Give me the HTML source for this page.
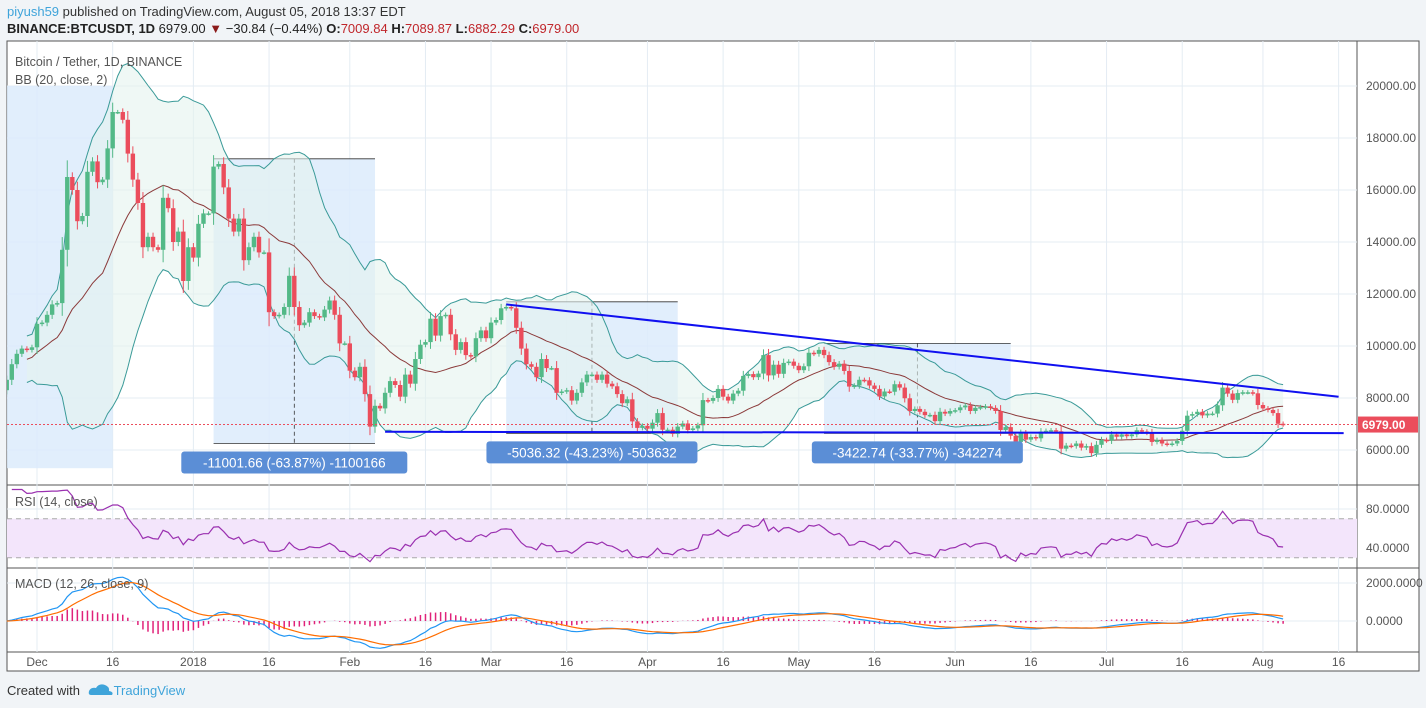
<!DOCTYPE html>
<html><head><meta charset="utf-8">
<style>
body{margin:0;width:1426px;height:708px;background:#f1f4f7;font-family:"Liberation Sans",sans-serif;overflow:hidden;position:relative}
.t{position:absolute;white-space:nowrap}
</style></head>
<body>
<div class="t" style="left:7px;top:4px;font-size:13px;color:#333"><span style="color:#3fa4da">piyush59</span> published on TradingView.com, August 05, 2018 13:37 EDT</div>
<div class="t" style="left:7px;top:21px;font-size:13px;color:#222"><b>BINANCE:BTCUSDT, 1D</b> 6979.00 <span style="color:#8b1a1a">▼</span> −30.84 (−0.44%) <b>O:</b><span style="color:#c0262b">7009.84</span> <b>H:</b><span style="color:#c0262b">7089.87</span> <b>L:</b><span style="color:#c0262b">6882.29</span> <b>C:</b><span style="color:#c0262b">6979.00</span></div>
<svg id="c" width="1426" height="708" style="position:absolute;left:0;top:0"></svg>
<div class="t" style="left:7px;top:683px;font-size:13px;color:#333">Created with <span style="color:#3fa4da;margin-left:30px">TradingView</span></div>
<svg width="26" height="14" style="position:absolute;left:88px;top:683px"><path d="M3 12 Q0 12 1 8 Q3 4 8 5 Q11 0 17 2 Q22 4 21 8 Q26 9 24 12 Z" fill="#3fa4da"/></svg>
<script>
const closes=[8700,9300,9700,9900,9850,9950,
10850,10900,11200,11600,11650,13700,16500,16000,14800,15000,16700,17100,16300,16400,17600,19000,19000,18700,17400,16400,15500,13800,14200,13800,13700,15700,15300,14000,14400,12500,13800,
13400,14700,15100,15100,16900,17000,16100,14900,14400,14900,13300,13800,14200,13600,13600,11300,11150,11200,11500,12700,11500,10800,10900,11300,11150,11100,11400,11750,11200,10100,10100,
9050,8800,9200,8150,6900,7700,7600,8200,8650,8500,8050,8900,8550,9500,10050,10150,11050,10400,11150,11200,10450,9850,10150,9650,9600,10300,10600,10300,
10900,11000,11450,11500,11450,10700,9900,9300,9200,8800,9500,9150,9150,8200,8250,8300,7900,8200,8600,8900,8900,8700,8900,8550,8450,8150,7800,7950,7100,6850,6930,
6820,7050,7420,6780,6780,6620,6900,7020,6770,6830,6950,7920,7890,8000,8350,8050,7900,8170,8280,8850,8920,8800,8940,9650,8870,9280,8930,9350,9400,9240,
9070,9220,9740,9700,9850,9650,9380,9200,9320,9040,8440,8480,8700,8680,8480,8350,8060,8250,8240,8530,8400,7990,7500,7580,7470,7340,7350,7110,7470,7400,7500,
7530,7640,7710,7500,7620,7650,7680,7620,7500,6770,6880,6550,6310,6640,6400,6500,6450,6710,6740,6760,6720,6050,6170,6150,6250,6090,6150,5880,6200,6390,
6360,6600,6510,6600,6530,6600,6760,6710,6660,6310,6380,6250,6220,6250,6350,6740,7320,7380,7470,7330,7400,7400,7720,8400,8170,7930,8190,8220,8220,8180,7730,
7600,7540,7420,7010,6979];
const priceTicks=[6000,8000,10000,12000,14000,16000,18000,20000];
const rsiTicks=[40,80];
const macdTicks=[0,2000];
const timeLabels=["Dec","16","2018","16","Feb","16","Mar","16","Apr","16","May","16","Jun","16","Jul","16","Aug","16"];
const timeLabelDays=[6,21,37,52,68,83,96,111,127,142,157,172,188,203,218,233,249,264];
const ranges=[{a:0,b:21,hi:20000,lo:5300,label:""},{a:41,b:73,hi:17200,lo:6250,label:"-11001.66 (-63.87%) -1100166"},{a:99,b:133,hi:11700,lo:6640,label:"-5036.32 (-43.23%) -503632"},{a:162,b:199,hi:10100,lo:6640,label:"-3422.74 (-33.77%) -342274"}];
const trendA=[99,11600,264,8050];
const supportA=[75,6700,265,6650];

const S=document.getElementById('c'),NS='http://www.w3.org/2000/svg';
function el(t,a,p){const e=document.createElementNS(NS,t);for(const k in a)e.setAttribute(k,a[k]);(p||S).appendChild(e);return e}
const L=7,R=1357,T=41,MB=485,RB=568,CB=652,AB=671;
const X=i=>37+(i-6)*5.045;
const Y=p=>86+(20000-p)*0.026;
const YR=v=>548+(40-v)*0.975;
const YM=v=>621-v*0.019;
const bg=el('rect',{x:L,y:T,width:1412,height:AB-T,fill:'#fff',stroke:'#555'});


el('line',{x1:R,y1:T,x2:R,y2:CB,stroke:'#555'});
[MB,RB,CB].forEach(y=>el('line',{x1:L,y1:y,x2:1419,y2:y,stroke:'#555'}));
timeLabelDays.forEach(d=>{[[T,MB],[MB,RB],[RB,CB]].forEach(r=>el('line',{x1:X(d),y1:r[0],x2:X(d),y2:r[1],stroke:'#e4ecf3'}))});
priceTicks.forEach(p=>el('line',{x1:L,y1:Y(p),x2:R,y2:Y(p),stroke:'#e4ecf3'}));
rsiTicks.forEach(v=>el('line',{x1:L,y1:YR(v),x2:R,y2:YR(v),stroke:'#e4ecf3'}));
macdTicks.forEach(v=>el('line',{x1:L,y1:YM(v),x2:R,y2:YM(v),stroke:'#e4ecf3'}));
const defs=el('defs',{});
const cp=el('clipPath',{id:'mc'},defs);el('rect',{x:L,y:T,width:R-L,height:MB-T},cp);
const G=el('g',{'clip-path':'url(#mc)'});
ranges.forEach((r,k)=>{
 const x1=X(r.a),x2=X(r.b),y1=Y(r.hi),y2=Y(r.lo);
 const rc=el('rect',{x:x1,y:y1,width:x2-x1,height:y2-y1,fill:'#dcebfb',opacity:0.85},G);
 
 
 if(k>0){el('line',{x1:x1,y1:y1,x2:x2,y2:y1,stroke:'#333','stroke-width':0.8},G);el('line',{x1:x1,y1:y2,x2:x2,y2:y2,stroke:'#333','stroke-width':0.8},G);
 const xm=(x1+x2)/2;el('line',{x1:xm,y1:y1,x2:xm,y2:y2,stroke:'#333','stroke-dasharray':'4,3','stroke-width':0.8},G);}
});
const N=closes.length,up=[],mid=[],lo=[];
for(let i=0;i<N;i++){const s=closes.slice(Math.max(0,i-19),i+1);const m=s.reduce((a,b)=>a+b)/s.length;const sd=Math.sqrt(s.reduce((a,b)=>a+(b-m)*(b-m),0)/s.length);mid.push(m);up.push(m+2*sd);lo.push(m-2*sd)}
const st=4;
let fp='';for(let i=st;i<N;i++)fp+=(i==st?'M':'L')+X(i)+','+Y(up[i]);for(let i=N-1;i>=st;i--)fp+='L'+X(i)+','+Y(lo[i]);
el('path',{d:fp+'Z',fill:'#e5f3ef',opacity:0.6},G);
const pl=(arr,f,from)=>{let d='';for(let i=from;i<arr.length;i++)d+=(i==from?'M':'L')+X(i).toFixed(1)+','+f(arr[i]).toFixed(1);return d};
const bu=el('path',{d:pl(up,Y,st),fill:'none',stroke:'#3a9a98','stroke-width':1},G);


const bl=el('path',{d:pl(lo,Y,st),fill:'none',stroke:'#3a9a98','stroke-width':1},G);


const bm=el('path',{d:pl(mid,Y,st),fill:'none',stroke:'#8b3a3a','stroke-width':1},G);


for(let i=0;i<N;i++){
 const o=i?closes[i-1]:8300,c=closes[i],g=c>=o;
 const h=Math.max(o,c)+Math.abs(c-o)*0.2+80,l=Math.min(o,c)-Math.abs(c-o)*0.2-80;
 const col=g?'#53b987':'#eb4d5c';
 el('line',{x1:X(i),y1:Y(h),x2:X(i),y2:Y(l),stroke:col,'stroke-width':1},G);
 const b=el('rect',{x:X(i)-2.2,y:Y(Math.max(o,c)),width:4.4,height:Math.max(1.5,Math.abs(Y(o)-Y(c))),fill:col},G);
 
 
}
const t1=el('line',{x1:X(trendA[0]),y1:Y(trendA[1]),x2:X(trendA[2]),y2:Y(trendA[3]),stroke:'#1010f0','stroke-width':2},G);


const t2=el('line',{x1:X(supportA[0]),y1:Y(supportA[1]),x2:X(supportA[2]),y2:Y(supportA[3]),stroke:'#1010f0','stroke-width':2},G);


el('line',{x1:L,y1:Y(6979),x2:R,y2:Y(6979),stroke:'#eb4d5c','stroke-dasharray':'2,2'});
ranges.forEach((r,k)=>{if(!r.label)return;const xm=(X(r.a)+X(r.b))/2,w=r.label.length*7.5+16;
 const g=el('g',{});
 
 
 el('rect',{x:xm-w/2,y:Y(r.lo)+8,width:w,height:22,rx:3,fill:'#5b8ed6'},g);
 const t=el('text',{x:xm,y:Y(r.lo)+24,'text-anchor':'middle','font-size':13.5,fill:'#fff'},g);t.textContent=r.label;});
const tt=el('text',{x:15,y:66,'font-size':12.5,fill:'#555'});tt.textContent='Bitcoin / Tether, 1D, BINANCE';


const bt=el('text',{x:15,y:84,'font-size':12.5,fill:'#555'});bt.textContent='BB (20, close, 2)';
priceTicks.forEach(p=>{const t=el('text',{x:1366,y:Y(p)+4,'font-size':12,fill:'#555'});t.textContent=p.toFixed(2);});
const pr=el('rect',{x:1358,y:Y(6979)-8,width:60,height:16,fill:'#eb4d5c'});


const ptx=el('text',{x:1362,y:Y(6979)+4.5,'font-size':12,'font-weight':'bold',fill:'#fff'});ptx.textContent='6979.00';
const rsi=[];let ag=0,al=0;
for(let i=1;i<N;i++){const d=closes[i]-closes[i-1],g=Math.max(d,0),l=Math.max(-d,0);
 if(i<=14){ag+=g/14;al+=l/14;}else{ag=(ag*13+g)/14;al=(al*13+l)/14;}
 rsi[i]=al==0?100:100-100/(1+ag/al);}
rsi[0]=rsi[1];
el('rect',{x:L,y:YR(70),width:R-L,height:YR(30)-YR(70),fill:'#f3e5fb'});
[70,30].forEach(v=>el('line',{x1:L,y1:YR(v),x2:R,y2:YR(v),stroke:'#aaa','stroke-dasharray':'5,4'}));
const rl=el('path',{d:pl(rsi,YR,1),fill:'none',stroke:'#9a30b0','stroke-width':1.2});


const rt=el('text',{x:15,y:506,'font-size':12.5,fill:'#555'});rt.textContent='RSI (14, close)';
rsiTicks.forEach(v=>{const t=el('text',{x:1366,y:YR(v)+4,'font-size':12,fill:'#555'});t.textContent=v.toFixed(4);});
function ema(a,n){const k=2/(n+1),o=[a[0]];for(let i=1;i<a.length;i++)o.push(a[i]*k+o[i-1]*(1-k));return o}
const e12=ema(closes,12),e26=ema(closes,26),macd=e12.map((v,i)=>v-e26[i]),sig=ema(macd,9);
for(let i=0;i<N;i++){const h=macd[i]-sig[i];el('line',{x1:X(i),y1:YM(0),x2:X(i),y2:YM(h),stroke:'#e0227a','stroke-width':1.5});}
const ml=el('path',{d:pl(macd,YM,0),fill:'none',stroke:'#2196f3','stroke-width':1.2});


const sl=el('path',{d:pl(sig,YM,0),fill:'none',stroke:'#ff6d00','stroke-width':1.2});


const mt=el('text',{x:15,y:588,'font-size':12.5,fill:'#555'});mt.textContent='MACD (12, 26, close, 9)';
macdTicks.forEach(v=>{const t=el('text',{x:1366,y:YM(v)+4,'font-size':12,fill:'#555'});t.textContent=v.toFixed(4);});
timeLabels.forEach((s,k)=>{const t=el('text',{x:X(timeLabelDays[k]),y:666,'font-size':12,fill:'#555','text-anchor':'middle'});t.textContent=s;});
</script>
</body></html>
